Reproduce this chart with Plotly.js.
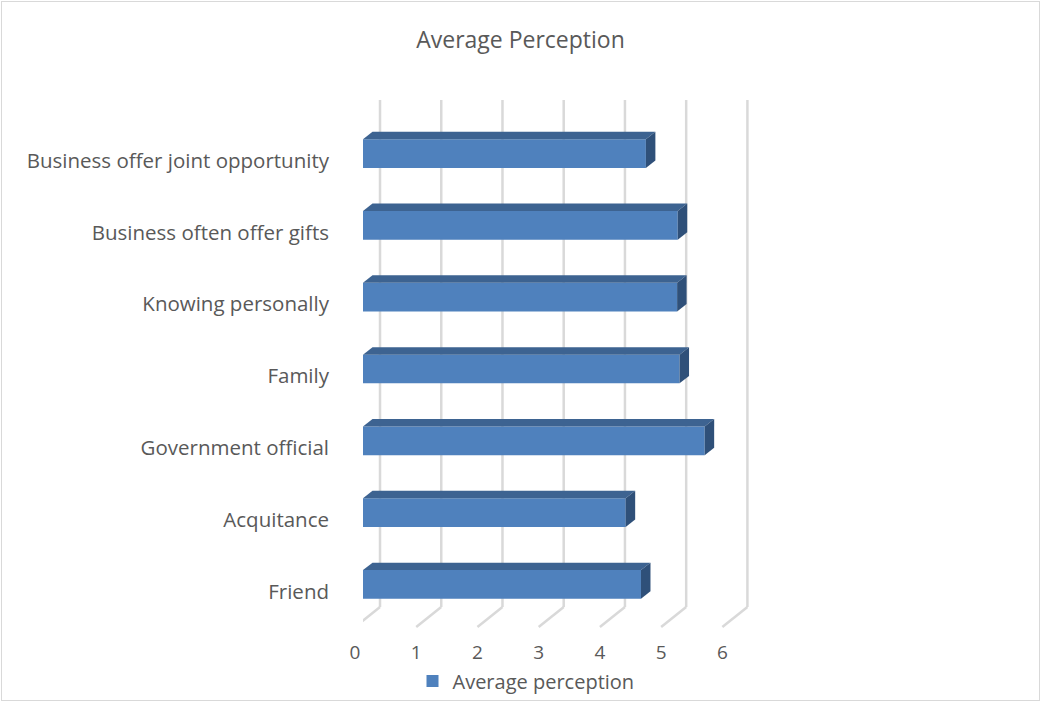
<!DOCTYPE html>
<html>
<head>
<meta charset="utf-8">
<script src="https://cdn.plot.ly/plotly-3.0.1.min.js"></script>
<style>
  html, body { margin: 0; padding: 0; background: #fff; }
  #wrap { position: relative; width: 1041px; height: 702px; }
  #chart { width: 1041px; height: 702px; }
  #frame { position: absolute; left: 1px; top: 1px; width: 1037px; height: 698px; border: 1px solid #d9d9d9; pointer-events: none; }
</style>
</head>
<body>
<div id="wrap"><div id="chart"></div><div id="frame"></div></div>
<script>
// Data (bottom to top)
const categories = [
  "Friend",
  "Acquitance",
  "Government official",
  "Family",
  "Knowing personally",
  "Business often offer gifts",
  "Business offer joint opportunity"
];
const values = [4.54, 4.29, 5.58, 5.17, 5.13, 5.14, 4.62];
const xTickValues = [0, 1, 2, 3, 4, 5, 6];
const seriesName = "Average perception";
const chartTitle = "Average Perception";

// Style constants
const FRONT = "#4f81bd", TOP = "#3d6391", SIDE = "#2f5079", GRID = "#d9d9d9", TXT = "#595959";
const BAR_HALF = 0.2;       // half bar thickness (category units)
const DX = 0.155, DY = 0.104;  // bar depth offset (axis units)
const WALL_DX = 0.278;      // back wall offset from bar zero (axis units)
const FLOOR_DX = -0.131;    // front floor offset (axis units)
const FLOOR_Y = 0.038;      // back wall bottom (paper)

const positions = categories.map((c, i) => i);

const shapes = [];
// back-wall gridlines + floor diagonals
xTickValues.forEach(k => {
  shapes.push({type: "line", layer: "below", xref: "x", yref: "paper",
    x0: k + WALL_DX, x1: k + WALL_DX, y0: FLOOR_Y, y1: 1,
    line: {color: GRID, width: 2.5}});
  shapes.push({type: "line", layer: "below", xref: "x", yref: "paper",
    x0: k + WALL_DX, x1: k + FLOOR_DX, y0: FLOOR_Y, y1: 0,
    line: {color: GRID, width: 2.5}});
});
// 3D faces of bars
values.forEach((v, i) => {
  const yt = i + BAR_HALF, yb = i - BAR_HALF;
  shapes.push({type: "path", layer: "above", xref: "x", yref: "y",
    path: `M0,${yt} L${v},${yt} L${v + DX},${yt + DY} L${DX},${yt + DY} Z`,
    fillcolor: TOP, line: {width: 0}});
  shapes.push({type: "path", layer: "above", xref: "x", yref: "y",
    path: `M${v},${yt} L${v + DX},${yt + DY} L${v + DX},${yb + DY} L${v},${yb} Z`,
    fillcolor: SIDE, line: {width: 0}});
});

const trace = {
  type: "bar",
  orientation: "h",
  name: seriesName,
  x: values,
  y: positions,
  width: BAR_HALF * 2,
  marker: {color: FRONT, line: {width: 0}},
  hoverinfo: "x+text",
  text: categories,
  textposition: "none",
  showlegend: true
};

const layout = {
  width: 1041, height: 702,
  paper_bgcolor: "#fff", plot_bgcolor: "rgba(0,0,0,0)",
  font: {family: "Open Sans, sans-serif", color: TXT, size: 20},
  title: {text: chartTitle, x: 0.5, xref: "container", xanchor: "center",
          y: 1 - 40/702, yref: "container", yanchor: "middle",
          font: {size: 23, color: TXT}},
  margin: {l: 363, r: 280, t: 100, b: 75, pad: 0},
  xaxis: {range: [0, 6.5], tickvals: xTickValues, showgrid: false, zeroline: false,
          showline: false, ticks: "", ticklabelshift: -8, ticklabelstandoff: 12,
          tickfont: {size: 19, color: TXT}, fixedrange: true},
  yaxis: {range: [-0.592, 6.745], tickvals: positions, ticktext: categories,
          showgrid: false, zeroline: false, showline: false, ticks: "",
          ticklabelstandoff: 33, ticklabelshift: 7,
          tickfont: {size: 20.5, color: TXT}, fixedrange: true},
  showlegend: true,
  legend: {orientation: "h", xref: "container", yref: "container",
           x: 526/1041, xanchor: "center", y: 1 - 681/702, yanchor: "middle",
           bgcolor: "rgba(0,0,0,0)", borderwidth: 0,
           font: {size: 20, color: TXT}, itemwidth: 30},
  shapes: shapes,
  bargap: 0.6
};

Plotly.newPlot("chart", [trace], layout, {displayModeBar: false, staticPlot: true});
</script>
</body>
</html>
